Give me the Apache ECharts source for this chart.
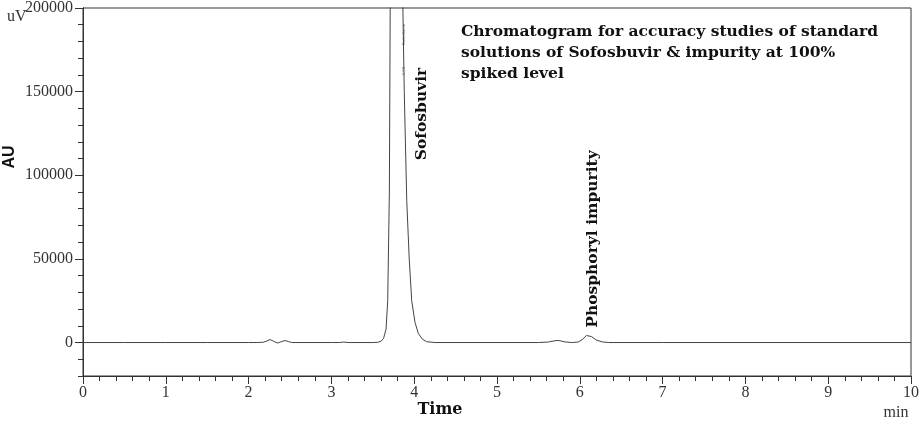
<!DOCTYPE html>
<html>
<head>
<meta charset="utf-8">
<script src="https://cdn.jsdelivr.net/npm/echarts@6/dist/echarts.min.js"></script>
<style>html,body{margin:0;padding:0;background:#fff;}#c{width:922px;height:422px;}</style>
</head>
<body>
<div id="c"></div>
<script>
// retention time (min)
var times = [0, 0.5, 1.0, 1.5, 2.0, 2.1, 2.18, 2.22, 2.26, 2.30, 2.35, 2.40, 2.44, 2.48, 2.52,
  3.0, 3.1, 3.15, 3.2, 3.5, 3.56, 3.60, 3.63, 3.66, 3.68, 3.70, 3.71, 3.73, 3.78, 3.83, 3.86, 3.88,
  3.91, 3.94, 3.97, 4.01, 4.05, 4.10, 4.15, 4.25, 5.5, 5.62, 5.70, 5.75, 5.82, 5.9, 5.98,
  6.03, 6.08, 6.10, 6.14, 6.20, 6.27, 6.35, 7.0, 10.0];
// detector signal (uV)
var signal = [0, 0, 0, 0, 0, 0, 200, 900, 1800, 800, -300, 600, 1200, 600, 0,
  0, 0, 300, 0, 0, 150, 800, 2500, 8000, 25000, 90000, 200000, 400000, 600000, 400000, 210000, 150000,
  85000, 50000, 25000, 12000, 5400, 2000, 500, 0, 0, 300, 1100, 1200, 400, 0, 300,
  1800, 4200, 4500, 3600, 1500, 400, 0, 0, 0];
var yMajorTicks = [0, 50000, 100000, 150000, 200000];
var yMinorTicks = [-20000, -10000, 0, 10000, 20000, 30000, 40000, 50000, 60000, 70000, 80000, 90000,
  100000, 110000, 120000, 130000, 140000, 150000, 160000, 170000, 180000, 190000, 200000];
var titleLines = ['Chromatogram for accuracy studies of standard',
  'solutions of Sofosbuvir & impurity at 100%', 'spiked level'];
var peakNames = ['Sofosbuvir', 'Phosphoryl impurity'];

var data = times.map(function (t, i) { return [t, signal[i]]; });
var axisCol = '#333';
var serif = '"Liberation Serif", "Times New Roman", serif';
var slab = '"DejaVu Serif", serif';

var chart = echarts.init(document.getElementById('c'), null, {renderer: 'canvas'});
var graphics = [];
titleLines.forEach(function (s, i) {
  graphics.push({type: 'text', left: 461, top: 24 + i * 21,
    style: {text: s, font: 'bold 15.5px ' + slab, fill: '#111'}});
});
graphics.push({type: 'text', x: 422, y: 114, rotation: Math.PI / 2,
  style: {text: peakNames[0], font: 'bold 15.5px ' + slab, fill: '#111', align: 'center', verticalAlign: 'middle'}});
graphics.push({type: 'text', x: 593, y: 239, rotation: Math.PI / 2,
  style: {text: peakNames[1], font: 'bold 15.5px ' + slab, fill: '#111', align: 'center', verticalAlign: 'middle'}});
graphics.push({type: 'text', x: 404, y: 34, rotation: Math.PI / 2,
  style: {text: 'Sofosbuvir', font: '5px ' + serif, fill: '#555', align: 'center', verticalAlign: 'middle'}});
graphics.push({type: 'text', x: 404, y: 71, rotation: Math.PI / 2,
  style: {text: '3.78', font: '5px ' + serif, fill: '#777', align: 'center', verticalAlign: 'middle'}});
graphics.push({type: 'text', x: 10, y: 157, rotation: Math.PI / 2,
  style: {text: 'AU', font: 'bold 16px "Liberation Sans", Arial, sans-serif', fill: '#111', align: 'center', verticalAlign: 'middle'}});
graphics.push({type: 'text', left: 7, top: 9,
  style: {text: 'uV', font: '16px ' + serif, fill: '#333'}});
graphics.push({type: 'text', x: 440, y: 410,
  style: {text: 'Time', font: 'bold 16px ' + slab, fill: '#111', align: 'center', verticalAlign: 'middle'}});
graphics.push({type: 'text', x: 896, y: 413,
  style: {text: 'min', font: '16px ' + serif, fill: '#333', align: 'center', verticalAlign: 'middle'}});

chart.setOption({
  animation: false,
  backgroundColor: '#fff',
  grid: {left: 83, right: 11, top: 7, bottom: 46, show: true, borderColor: axisCol, borderWidth: 1},
  xAxis: {
    type: 'value', min: 0, max: 10, interval: 1,
    axisLine: {show: true, onZero: false, lineStyle: {color: axisCol}},
    axisTick: {show: true, length: 8, lineStyle: {color: axisCol}},
    minorTick: {show: true, splitNumber: 5, length: 5, lineStyle: {color: axisCol}},
    splitLine: {show: false},
    axisLabel: {margin: 9, fontFamily: serif, fontSize: 16, color: '#333'}
  },
  yAxis: [{
    type: 'value', min: -20000, max: 200000,
    axisLine: {show: true, lineStyle: {color: axisCol}},
    axisTick: {show: true, length: 5, customValues: yMinorTicks, lineStyle: {color: axisCol}},
    axisLabel: {show: false, customValues: yMinorTicks},
    splitLine: {show: false}
  }, {
    type: 'value', min: -20000, max: 200000, position: 'left',
    axisLine: {show: true, lineStyle: {color: axisCol}},
    axisTick: {show: true, length: 8, customValues: yMajorTicks, lineStyle: {color: axisCol}},
    axisLabel: {show: true, customValues: yMajorTicks, margin: 10, fontFamily: serif, fontSize: 16, color: '#333',
      formatter: function (v) { return String(v); }},
    splitLine: {show: false}
  }],
  series: [{
    type: 'line', data: data, yAxisIndex: 0, showSymbol: false, symbol: 'none', clip: true,
    lineStyle: {color: '#444', width: 1}
  }],
  graphic: graphics
});
</script>
</body>
</html>
